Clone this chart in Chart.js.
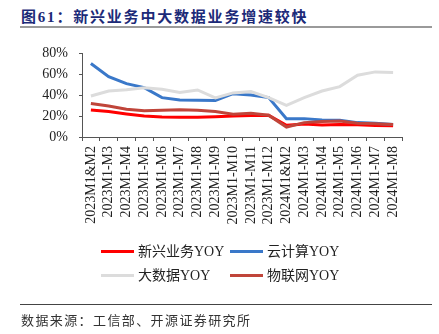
<!DOCTYPE html>
<html>
<head>
<meta charset="utf-8">
<script src="https://cdn.jsdelivr.net/npm/chart.js@4"></script>
<style>
  body { margin: 0; width: 439px; height: 334px; background: #fff; position: relative; overflow: hidden; }
  #wrap { position: absolute; left: 0; top: 0; width: 439px; height: 334px; }
  #title { position: absolute; left: 21px; top: 5px; font: bold 15px "Liberation Serif", "Noto Sans CJK SC"; color: #1c2a78; letter-spacing: 1.8px; }
  #rule1 { position: absolute; left: 20px; top: 26px; width: 412px; height: 2px; background: #9a9a9a; }
  #legend { position: absolute; left: 101px; top: 242px; font: 14px "Liberation Serif", "Noto Sans CJK SC"; color: #222; }
  .item { position: absolute; height: 20px; line-height: 20px; white-space: nowrap; }
  .item span.sw { position: absolute; left: 0; top: 8px; width: 33px; height: 3px; }
  .item span.tx { position: absolute; left: 37px; top: 0; }
  #rule2 { position: absolute; left: 20px; top: 304px; width: 412px; height: 1px; background: #444; }
  #source { position: absolute; left: 21px; top: 310px; font: 13px "Noto Sans CJK SC"; color: #333; letter-spacing: 1.4px; }
</style>
</head>
<body>
<div id="title">图61：新兴业务中大数据业务增速较快</div>
<div id="rule1"></div>
<div id="wrap"><canvas id="chart" width="439" height="334"></canvas></div>
<div id="legend"></div>
<div id="rule2"></div>
<div id="source">数据来源：工信部、开源证券研究所</div>
<script>
// categories
var months = ['2023M1&M2', '2023M1-M3', '2023M1-M4', '2023M1-M5', '2023M1-M6', '2023M1-M7',
  '2023M1-M8', '2023M1-M9', '2023M1-M10', '2023M1-M11', '2023M1-M12', '2024M1&M2',
  '2024M1-M3', '2024M1-M4', '2024M1-M5', '2024M1-M6', '2024M1-M7', '2024M1-M8'];

// series values (%)
var newBiz  = [25.7, 24.2, 22.0, 20.0, 19.0, 18.7, 18.7, 19.4, 20.0, 20.4, 20.6, 11.1, 12.4, 11.4, 12.0, 11.7, 11.0, 10.8];
var cloud   = [70.0, 57.5, 50.8, 47.0, 37.5, 35.3, 35.0, 34.7, 41.3, 40.0, 37.5, 17.5, 17.5, 16.2, 16.0, 13.7, 13.2, 12.0];
var bigData = [39.0, 43.8, 45.0, 47.0, 45.4, 42.3, 44.8, 37.2, 42.0, 43.2, 37.5, 30.2, 37.5, 43.8, 48.0, 58.8, 62.0, 61.5];
var iot     = [31.8, 29.5, 26.4, 25.1, 25.4, 26.0, 25.4, 24.2, 21.6, 22.6, 20.7, 9.5, 13.7, 14.7, 15.3, 13.2, 12.6, 12.0];

var yTicks = [0, 20, 40, 60, 80];

var series = [
  { label: '新兴业务YOY', data: newBiz,  color: '#ff0000', order: 3 },
  { label: '云计算YOY',   data: cloud,   color: '#3a78c9', order: 2 },
  { label: '大数据YOY',   data: bigData, color: '#dcdcdc', order: 1 },
  { label: '物联网YOY',   data: iot,     color: '#c0453a', order: 0 }
];

var datasets = series.map(function(s) {
  return {
    label: s.label,
    data: s.data,
    borderColor: s.color,
    backgroundColor: s.color,
    borderWidth: 3,
    pointRadius: 0,
    tension: 0,
    order: s.order
  };
});

var axisFont = { family: '"Liberation Serif", serif', size: 14 };

new Chart(document.getElementById('chart'), {
  type: 'line',
  data: { labels: months, datasets: datasets },
  options: {
    responsive: false,
    animation: false,
    layout: { padding: { left: 0, top: 53, right: 37, bottom: 101 } },
    plugins: { legend: { display: false }, tooltip: { enabled: false } },
    scales: {
      x: {
        offset: true,
        grid: { offset: true, drawOnChartArea: false, tickLength: 4, color: '#555' },
        border: { color: '#555', width: 1 },
        ticks: { autoSkip: false, minRotation: 90, maxRotation: 90, padding: 5, color: '#222', font: axisFont },
        afterFit: function(scale) { scale.height = 96; }
      },
      y: {
        min: 0,
        max: 80,
        afterBuildTicks: function(scale) {
          scale.ticks = yTicks.map(function(v) { return { value: v }; });
        },
        grid: { drawOnChartArea: false, tickLength: 3, color: '#555' },
        border: { color: '#555', width: 1 },
        ticks: { padding: 11, color: '#222', font: axisFont, callback: function(v) { return v + '%'; } },
        afterFit: function(scale) { scale.width = 82; }
      }
    }
  }
});

// legend: two rows, two columns
var legend = document.getElementById('legend');
var pos = [[0, 0], [129, 0], [0, 24], [129, 24]];
series.forEach(function(s, i) {
  var el = document.createElement('div');
  el.className = 'item';
  el.style.left = pos[i][0] + 'px';
  el.style.top = pos[i][1] + 'px';
  el.innerHTML = '<span class="sw" style="background:' + s.color + '"></span><span class="tx">' + s.label + '</span>';
  legend.appendChild(el);
});
</script>
</body>
</html>
